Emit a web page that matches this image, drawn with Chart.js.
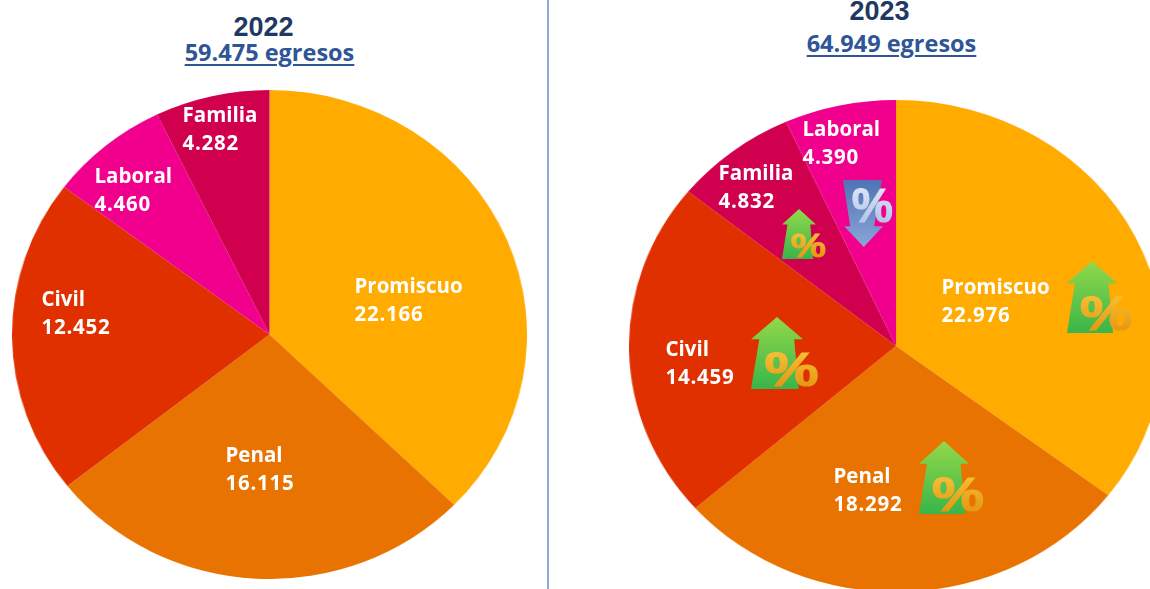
<!DOCTYPE html>
<html lang="es"><head><meta charset="utf-8">
<script src="https://cdn.jsdelivr.net/npm/chart.js@4"></script>
<style>
html,body{margin:0;padding:0;background:#fff;width:1150px;height:589px;overflow:hidden}
#stage{position:relative;width:1150px;height:589px;overflow:hidden}
.pie{position:absolute;transform-origin:0 0}
.pie canvas{display:block}
.t{position:absolute;white-space:nowrap;transform:translateX(-50%);text-align:center}
.year{font:bold 27px "Liberation Sans",sans-serif;color:#1F3864;line-height:30px}
.sub{font:700 23.5px "Open Sans",sans-serif;color:#2F5597;line-height:28px;text-decoration:underline;text-decoration-thickness:2px;text-underline-offset:3px}
.lab{position:absolute;white-space:nowrap;color:#fff;font:700 20.5px/28px "Open Sans",sans-serif}
.lab span{letter-spacing:.75px}
#rule{position:absolute;left:547px;top:0;width:2px;height:589px;background:#8EAADB}
svg.ic{position:absolute;overflow:visible}
</style></head><body>
<div id="stage">
 <div id="rule"></div>
 <div class="pie" id="w22"><canvas id="c22"></canvas></div>
 <div class="pie" id="w23"><canvas id="c23"></canvas></div>
 <div id="overlay"></div>
</div>
<script>
const categories22 = ["Promiscuo","Penal","Civil","Laboral","Familia"];
const values22 = [22166,16115,12452,4460,4282];
const labels22 = ["22.166","16.115","12.452","4.460","4.282"];
const categories23 = ["Promiscuo","Penal","Civil","Familia","Laboral"];
const values23 = [22976,18292,14459,4832,4390];
const labels23 = ["22.976","18.292","14.459","4.832","4.390"];
const titles = ["2022","2023"];
const totals = ["59.475 egresos","64.949 egresos"];
const palette = {Promiscuo:"#FFAB00",Penal:"#E97300",Civil:"#E03000",Laboral:"#F0008C",Familia:"#D1004F"};

function makePie(id,wrap,cats,vals,box){
  const size = box.h;
  const c = document.getElementById(id);
  c.width=size;c.height=size;
  const w = document.getElementById(wrap);
  w.style.left=box.x+"px";w.style.top=box.y+"px";w.style.width=size+"px";w.style.height=size+"px";
  w.style.transform="scaleX("+(box.w/box.h)+")";
  new Chart(c,{type:"pie",data:{labels:cats,datasets:[{data:vals,backgroundColor:cats.map(k=>palette[k]),borderWidth:0,hoverOffset:0}]},
   options:{responsive:false,maintainAspectRatio:false,animation:false,layout:{padding:0},
    plugins:{legend:{display:false},tooltip:{enabled:false},title:{display:false}}}});
}
makePie("c22","w22",categories22,values22,{x:12,y:90,w:515,h:489});
makePie("c23","w23",categories23,values23,{x:629,y:100,w:534,h:492});

const ov=document.getElementById("overlay");
function txt(cls,s,x,y){const d=document.createElement("div");d.className=cls;d.textContent=s;d.style.left=x+"px";d.style.top=y+"px";ov.appendChild(d);}
txt("t year",titles[0],263.5,12);txt("t sub",totals[0],269.5,38);
txt("t year",titles[1],879.5,-4);txt("t sub",totals[1],891.5,29);

const pos22={Promiscuo:[354.5,271],Penal:[225.5,440],Civil:[41.5,284],Laboral:[94.5,161],Familia:[182.5,100]};
const pos23={Promiscuo:[941.5,272],Penal:[833.5,461],Civil:[665.5,334],Familia:[718.5,158],Laboral:[802.5,114]};
function lab(cat,val,p){const d=document.createElement("div");d.className="lab";d.style.left=p[0]+"px";d.style.top=p[1]+"px";
  const n=document.createElement("span");n.textContent=val;
  d.append(cat,document.createElement("br"),n);ov.appendChild(d);}
categories22.forEach((k,i)=>lab(k,labels22[i],pos22[k]));
categories23.forEach((k,i)=>lab(k,labels23[i],pos23[k]));

const NS="http://www.w3.org/2000/svg";
function icon(x,y,w,h,up,uid){
  const s=document.createElementNS(NS,"svg");s.setAttribute("class","ic");
  s.style.left=x+"px";s.style.top=y+"px";s.setAttribute("width",w);s.setAttribute("height",h);
  const pts=up?[[.5,0],[1,.31],[.83,.31],[.92,1],[0,1],[.16,.31],[0,.31]]
              :[[0,0],[.97,0],[.78,.69],[1,.69],[.52,1],[.03,.69],[.18,.69]];
  const arrow=pts.map(p=>(p[0]*w)+","+(p[1]*h)).join(" ");
  const g=up?'<stop offset="0" stop-color="#94D84A"/><stop offset="1" stop-color="#38B54A"/>'
            :'<stop offset="0" stop-color="#4F73B5"/><stop offset="1" stop-color="#8AA6D8"/>';
  const tc=up?'<stop offset="0" stop-color="#FBC93F"/><stop offset="1" stop-color="#E08C08"/>'
             :'<stop offset="0" stop-color="#E6ECF8"/><stop offset="1" stop-color="#A9BCE3"/>';
  const gx=up?.26:.22, gw=up?1.04:1.03, gy=up?.96:.63, gh=up?.49:.53;
  const fs=(gh*h/.74).toFixed(1);
  s.innerHTML='<defs><linearGradient id="a'+uid+'" x1="0" y1="0" x2="0" y2="1">'+g+'</linearGradient>'+
    '<linearGradient id="b'+uid+'" x1="0" y1="0" x2="0" y2="1">'+tc+'</linearGradient></defs>'+
    '<polygon points="'+arrow+'" fill="url(#a'+uid+')"/>'+
    '<text x="'+(gx*w)+'" y="'+(gy*h)+'" font-family="Liberation Sans" font-weight="bold" font-size="'+fs+
    '" textLength="'+(gw*w)+'" lengthAdjust="spacingAndGlyphs" fill="url(#b'+uid+')" stroke="url(#b'+uid+')" stroke-width="'+(h/60).toFixed(2)+'">%</text>';
  document.getElementById("stage").appendChild(s);
}
icon(1067,261,50,72,true,1);
icon(751,317,52,72,true,2);
icon(919,441,50,73,true,3);
icon(782,209,34,50,true,4);
icon(843,180,40,67,false,5);
</script>
</body></html>
